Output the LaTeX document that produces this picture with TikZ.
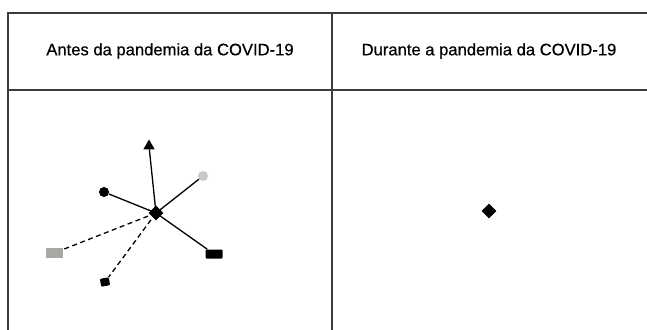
\documentclass[tikz,border=0pt]{standalone}
\usepackage{fontspec}
\setmainfont{Liberation Sans}
\newfontfamily\headfont[FakeBold=0.5]{Liberation Sans}
\usetikzlibrary{shapes.geometric}
\definecolor{rule}{HTML}{3C3C3C}
\definecolor{lightdot}{HTML}{C8C8C8}
\definecolor{greybox}{HTML}{A8A8A2}
\begin{document}
\begin{tikzpicture}[x=1pt,y=-1pt,
  frame/.style={draw=rule,line width=2pt},
  hdr/.style={font=\headfont\fontsize{16.6}{19}\selectfont,text=black},
  hub/.style={diamond,fill=black,inner sep=0pt,minimum size=15pt},
  dotnode/.style={circle,inner sep=0pt,minimum size=10pt},
  tri/.style={regular polygon,regular polygon sides=3,fill=black,inner sep=0pt,minimum size=13pt},
  boxnode/.style={rectangle,inner sep=0pt,rounded corners=1pt},
  link/.style={line width=1.3pt,black},
  dlink/.style={line width=1.3pt,black,dash pattern=on 5pt off 3.5pt}]
\useasboundingbox (0,0) rectangle (647,329);
% table frame
\draw[frame] (8,334) -- (8,13) -- (650,13);
\draw[frame] (8,90) -- (650,90);
\draw[frame] (332,13) -- (332,334);
% column headings
\node[hdr] (h1) at (170,51) {Antes da pandemia da COVID-19};
\node[hdr] (h2) at (489,51) {Durante a pandemia da COVID-19};
% network before the pandemic
\node[hub] (c) at (156,213) {};
\node[tri] (t) at (149,146) {};
\node[dotnode,fill=lightdot] (g) at (203,176) {};
\node[dotnode,fill=black] (b) at (104,192) {};
\node[boxnode,fill=greybox,minimum width=17pt,minimum height=10pt,rounded corners=0pt] (gr) at (54,253) {};
\node[boxnode,fill=black,minimum width=17pt,minimum height=9pt] (br) at (214,254) {};
\node[boxnode,fill=black,minimum width=9pt,minimum height=8pt,rotate=10] (sq) at (105,282) {};
\draw[link] (c.center) -- (t);
\draw[link] (c.center) -- (g);
\draw[link] (c.center) -- (b);
\draw[link] (c.center) -- (br);
\draw[dlink] (c.center) -- (gr);
\draw[dlink] (c.center) -- (sq);
% network during the pandemic
\node[hub] (c2) at (489,211) {};
\end{tikzpicture}
\end{document}
